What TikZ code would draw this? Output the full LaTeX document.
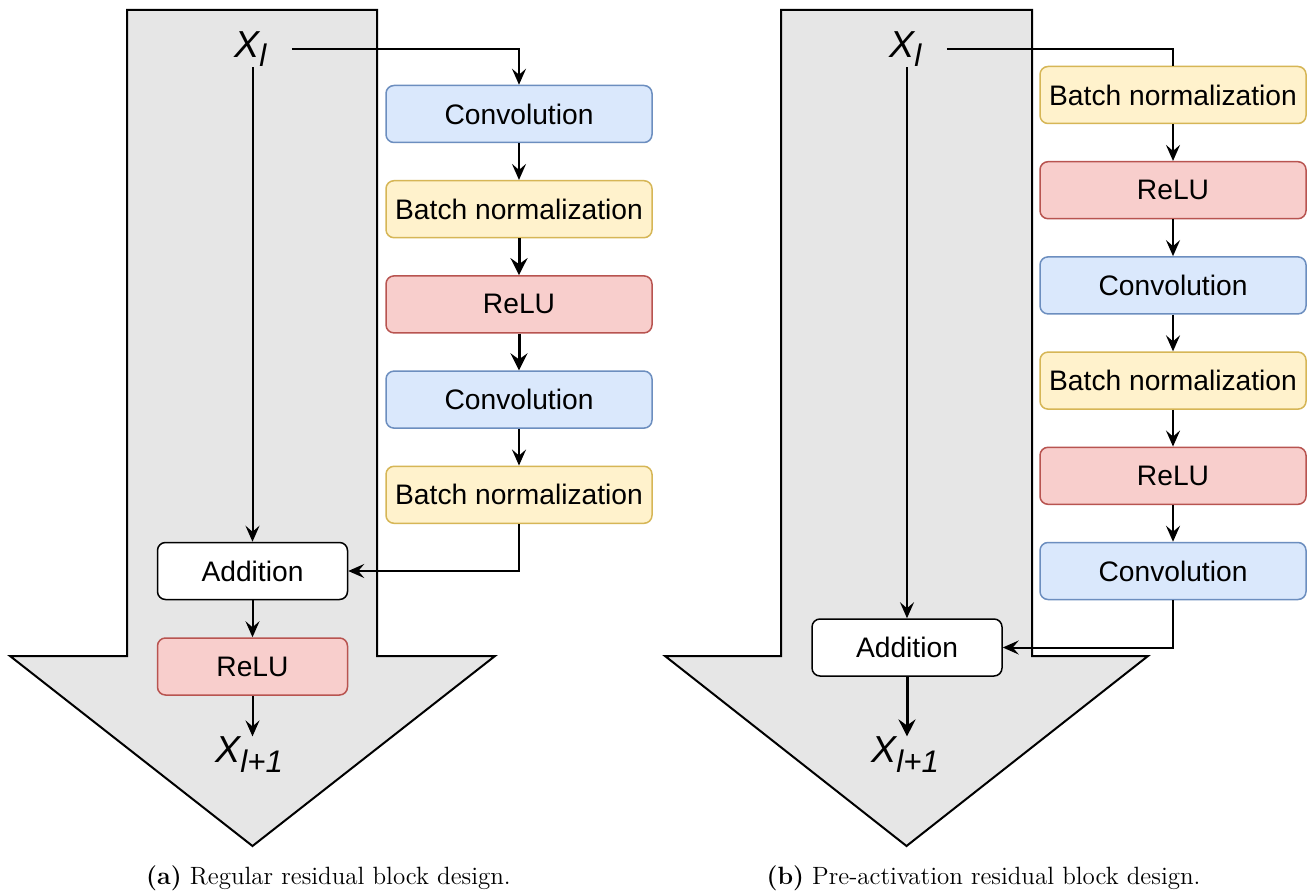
\documentclass[tikz,border=0pt]{standalone}
\usepackage{fontspec}
\newfontfamily\labfont{Liberation Sans}
\usetikzlibrary{arrows.meta}

\definecolor{shadegray}{HTML}{E6E6E6}
\definecolor{convfill}{HTML}{DAE8FC}
\definecolor{convline}{HTML}{6C8EBF}
\definecolor{bnfill}{HTML}{FFF2CC}
\definecolor{bnline}{HTML}{D6B656}
\definecolor{relufill}{HTML}{F8CECC}
\definecolor{reluline}{HTML}{B85450}

% italic X with a lowered subscript, as in X_l
\newcommand\layerX[1]{{\labfont\itshape\fontsize{18.8}{22}\selectfont X\raisebox{-4.7pt}{\fontsize{15.6}{18}\selectfont #1}}}

\begin{document}
\begin{tikzpicture}[x=0.5pt,y=-0.5pt,
  box/.style={draw, rounded corners=4pt, line width=0.75pt, minimum width=133pt,
    minimum height=28.5pt, inner sep=0pt, font=\labfont\fontsize{14.1}{17}\selectfont},
  conv/.style={box, fill=convfill, draw=convline},
  bn/.style={box, fill=bnfill, draw=bnline},
  relu/.style={box, fill=relufill, draw=reluline},
  addbox/.style={box, fill=white, draw=black, minimum width=95pt},
  link/.style={line width=1pt, -{Stealth[length=8pt,width=7pt,inset=3pt]}},
  boldlink/.style={line width=1.5pt, -{Stealth[length=8.5pt,width=8.5pt,inset=3pt]}},
  plain/.style={line width=1pt},
  flow/.style={fill=shadegray, draw=black, line width=1pt, line join=miter},
  sym/.style={inner sep=0pt, anchor=base west},
  subcap/.style={anchor=base, font=\fontsize{12.5}{15}\selectfont, inner sep=0pt}]

\useasboundingbox (0,0) rectangle (1310,892);
\fill[white] (0,0) rectangle (1310,892);

% ---------- (a) regular residual block ----------
\draw[flow] (127,10) -- (377,10) -- (377,656) -- (495,656) -- (252.5,846)
  -- (10,656) -- (127,656) -- cycle;

\node[sym] (xa) at (234,57.3) {\layerX{l}};
\node[sym] (xa2) at (215,762.7) {\layerX{l+1}};

\node[conv] (a1) at (519,114)   {Convolution};
\node[bn]   (a2) at (519,209.2) {Batch normalization};
\node[relu] (a3) at (519,304.4) {ReLU};
\node[conv] (a4) at (519,399.6) {Convolution};
\node[bn]   (a5) at (519,494.8) {Batch normalization};
\node[addbox] (aadd) at (252.5,571) {Addition};
\node[relu, minimum width=95pt] (arelu) at (252.5,666.5) {ReLU};

\draw[link] ([xshift=12.5pt]xa.east) -| (a1.north);
\draw[link] (a1) -- (a2);
\draw[boldlink] (a2) -- (a3);
\draw[boldlink] (a3) -- (a4);
\draw[link] (a4) -- (a5);
\draw[link] (a5.south) |- (aadd.east);
\draw[link] (xa.south -| aadd.north) -- (aadd.north);
\draw[link] (aadd) -- (arelu);
\draw[link] (arelu.south) -- (arelu.south |- xa2.north);

\node[subcap] (capa) at (328.5,884) {\textbf{(a)} Regular residual block design.};

% ---------- (b) pre-activation residual block ----------
\draw[flow] (781,10) -- (1032,10) -- (1032,656) -- (1148,656) -- (906.5,846)
  -- (665,656) -- (781,656) -- cycle;

\node[sym] (xb) at (889,57.3) {\layerX{l}};
\node[sym] (xb2) at (871,762.7) {\layerX{l+1}};

\node[bn]   (b1) at (1173,95)    {Batch normalization};
\node[relu] (b2) at (1173,190.2) {ReLU};
\node[conv] (b3) at (1173,285.4) {Convolution};
\node[bn]   (b4) at (1173,380.6) {Batch normalization};
\node[relu] (b5) at (1173,475.8) {ReLU};
\node[conv] (b6) at (1173,571)   {Convolution};
\node[addbox] (badd) at (907,647.5) {Addition};

\draw[plain] ([xshift=12.5pt]xb.east) -| (b1.north);
\draw[link] (b1) -- (b2);
\draw[link] (b2) -- (b3);
\draw[link] (b3) -- (b4);
\draw[link] (b4) -- (b5);
\draw[link] (b5) -- (b6);
\draw[link] (b6.south) |- (badd.east);
\draw[link] (xb.south -| badd.north) -- (badd.north);
\draw[boldlink] (badd.south) -- (badd.south |- xb2.north);

\node[subcap] (capb) at (983.5,884) {\textbf{(b)} Pre-activation residual block design.};
\end{tikzpicture}
\end{document}
